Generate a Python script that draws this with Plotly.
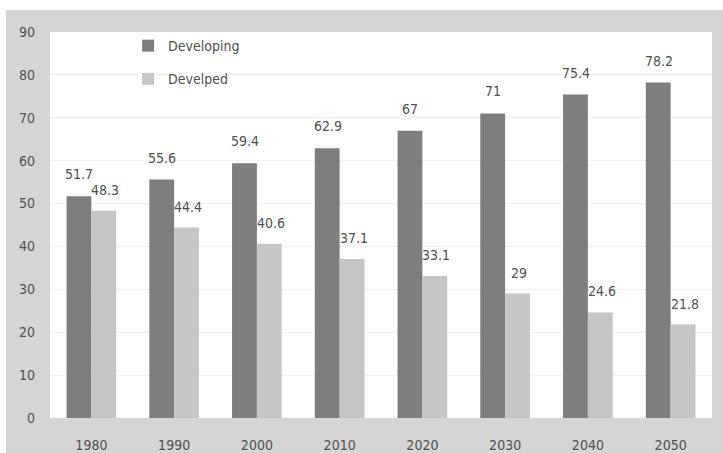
import plotly.graph_objects as go

years = ["1980", "1990", "2000", "2010", "2020", "2030", "2040", "2050"]
developing = [51.7, 55.6, 59.4, 62.9, 67, 71, 75.4, 78.2]
developed = [48.3, 44.4, 40.6, 37.1, 33.1, 29, 24.6, 21.8]
y_ticks = [0, 10, 20, 30, 40, 50, 60, 70, 80, 90]

FONT = "DejaVu Sans Condensed, Liberation Sans Narrow, sans-serif"
TXT = "#505050"
DARK = "#7e7e7e"
LIGHT = "#c6c6c6"
FRAME = "#d5d5d5"

fig = go.Figure()
fig.add_trace(go.Bar(name="Developing", x=years, y=developing, marker_color=DARK,
                     marker_line_width=0, legendgroup="a"))
fig.add_trace(go.Bar(name="Develped", x=years, y=developed, marker_color=LIGHT,
                     marker_line_width=0, legendgroup="b"))

# data labels (x given as category index)
for i, v in enumerate(developing):
    fig.add_annotation(x=i, y=v, text=f"{v:g}", showarrow=False, xshift=-12,
                       yshift=22, font=dict(family=FONT, size=14, color=TXT))
for i, v in enumerate(developed):
    fig.add_annotation(x=i, y=v, text=f"{v:g}", showarrow=False, xshift=14,
                       yshift=21, font=dict(family=FONT, size=14, color=TXT))

# white strips outside the grey frame (top and left)
fig.add_shape(type="rect", xref="paper", yref="paper", x0=-0.2, x1=1.1,
              y0=1.057, y1=1.2, fillcolor="white", line_width=0, layer="below")
fig.add_shape(type="rect", xref="paper", yref="paper", x0=-0.2, x1=-0.0665,
              y0=-0.2, y1=1.2, fillcolor="white", line_width=0, layer="below")

fig.update_layout(
    width=723, height=453,
    margin=dict(l=50, r=11, t=32, b=35, autoexpand=False),
    paper_bgcolor=FRAME, plot_bgcolor="white",
    barmode="group", bargap=0.4, bargroupgap=0,
    font=dict(family=FONT, size=14, color=TXT),
    showlegend=True,
    legend=dict(x=0.118, y=1.005, xanchor="left", yanchor="top",
                bgcolor="rgba(0,0,0,0)", font=dict(family=FONT, size=14, color=TXT),
                itemwidth=30, tracegroupgap=12),
    xaxis=dict(type="category", range=[-0.5, len(years) - 0.5], autorange=False,
               automargin=False, showgrid=False, zeroline=False, showline=False,
               ticks="", ticklabelstandoff=17,
               tickfont=dict(family=FONT, size=14, color=TXT)),
    yaxis=dict(range=[0, 90], autorange=False, automargin=False, tickvals=y_ticks,
               showgrid=True, gridcolor="#f1f1f1", zeroline=False, showline=False,
               ticks="", ticklabelstandoff=14,
               tickfont=dict(family=FONT, size=14, color=TXT)),
)

fig.write_html("out.html")
